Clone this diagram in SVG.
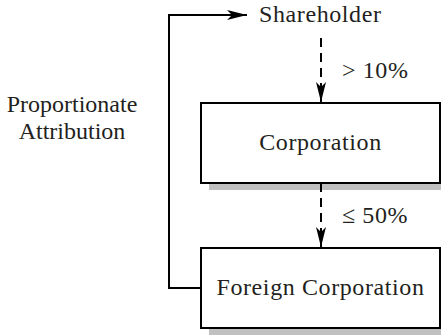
<svg xmlns="http://www.w3.org/2000/svg" width="441" height="335" viewBox="0 0 441 335">
  <style>
    .lbl { font-family: 'Liberation Serif', 'DejaVu Serif', serif; font-size: 24px; fill: #231f20; letter-spacing: 0.6px; }
    .side { letter-spacing: 0px; }
    .box { fill: #ffffff; stroke: #000000; stroke-width: 2; }
    .shadow { fill: #c0c0c0; }
    .link { fill: none; stroke: #000000; stroke-width: 2; }
    .dash { stroke-dasharray: 9 6; }
  </style>
  <defs>
    <marker id="head" viewBox="0 0 20 10" refX="20" refY="5" markerWidth="20" markerHeight="10" markerUnits="userSpaceOnUse" orient="auto">
      <path d="M0,0 L20,5 L0,10 L5,5 Z" fill="#000000"/>
    </marker>
  </defs>

  <rect width="441" height="335" fill="#ffffff"/>

  <g id="shareholder">
    <text class="lbl" x="259" y="22">Shareholder</text>
  </g>

  <g id="corporation">
    <rect class="shadow" x="209" y="183" width="232" height="7"/>
    <rect class="box" x="201" y="103" width="239" height="80"/>
    <text class="lbl" x="320.5" y="150" text-anchor="middle">Corporation</text>
  </g>

  <g id="foreign-corporation">
    <rect class="shadow" x="209" y="328" width="232" height="7"/>
    <rect class="box" x="201" y="248" width="239" height="80"/>
    <text class="lbl" x="320.5" y="295" text-anchor="middle">Foreign Corporation</text>
  </g>

  <g id="attribution-label">
    <text class="lbl side" x="72" y="112" text-anchor="middle">Proportionate</text>
    <text class="lbl side" x="72" y="139" text-anchor="middle">Attribution</text>
  </g>

  <g id="connectors">
    <path class="link dash" d="M321,38 V102" marker-end="url(#head)"/>
    <text class="lbl" x="342" y="78">&gt; 10%</text>
    <path class="link" d="M321,183 V192"/>
    <path class="link dash" d="M321,198 V247" marker-end="url(#head)"/>
    <text class="lbl" x="342" y="223">≤ 50%</text>
    <path class="link" d="M201,288 H169 V15 H247" marker-end="url(#head)"/>
  </g>
</svg>
